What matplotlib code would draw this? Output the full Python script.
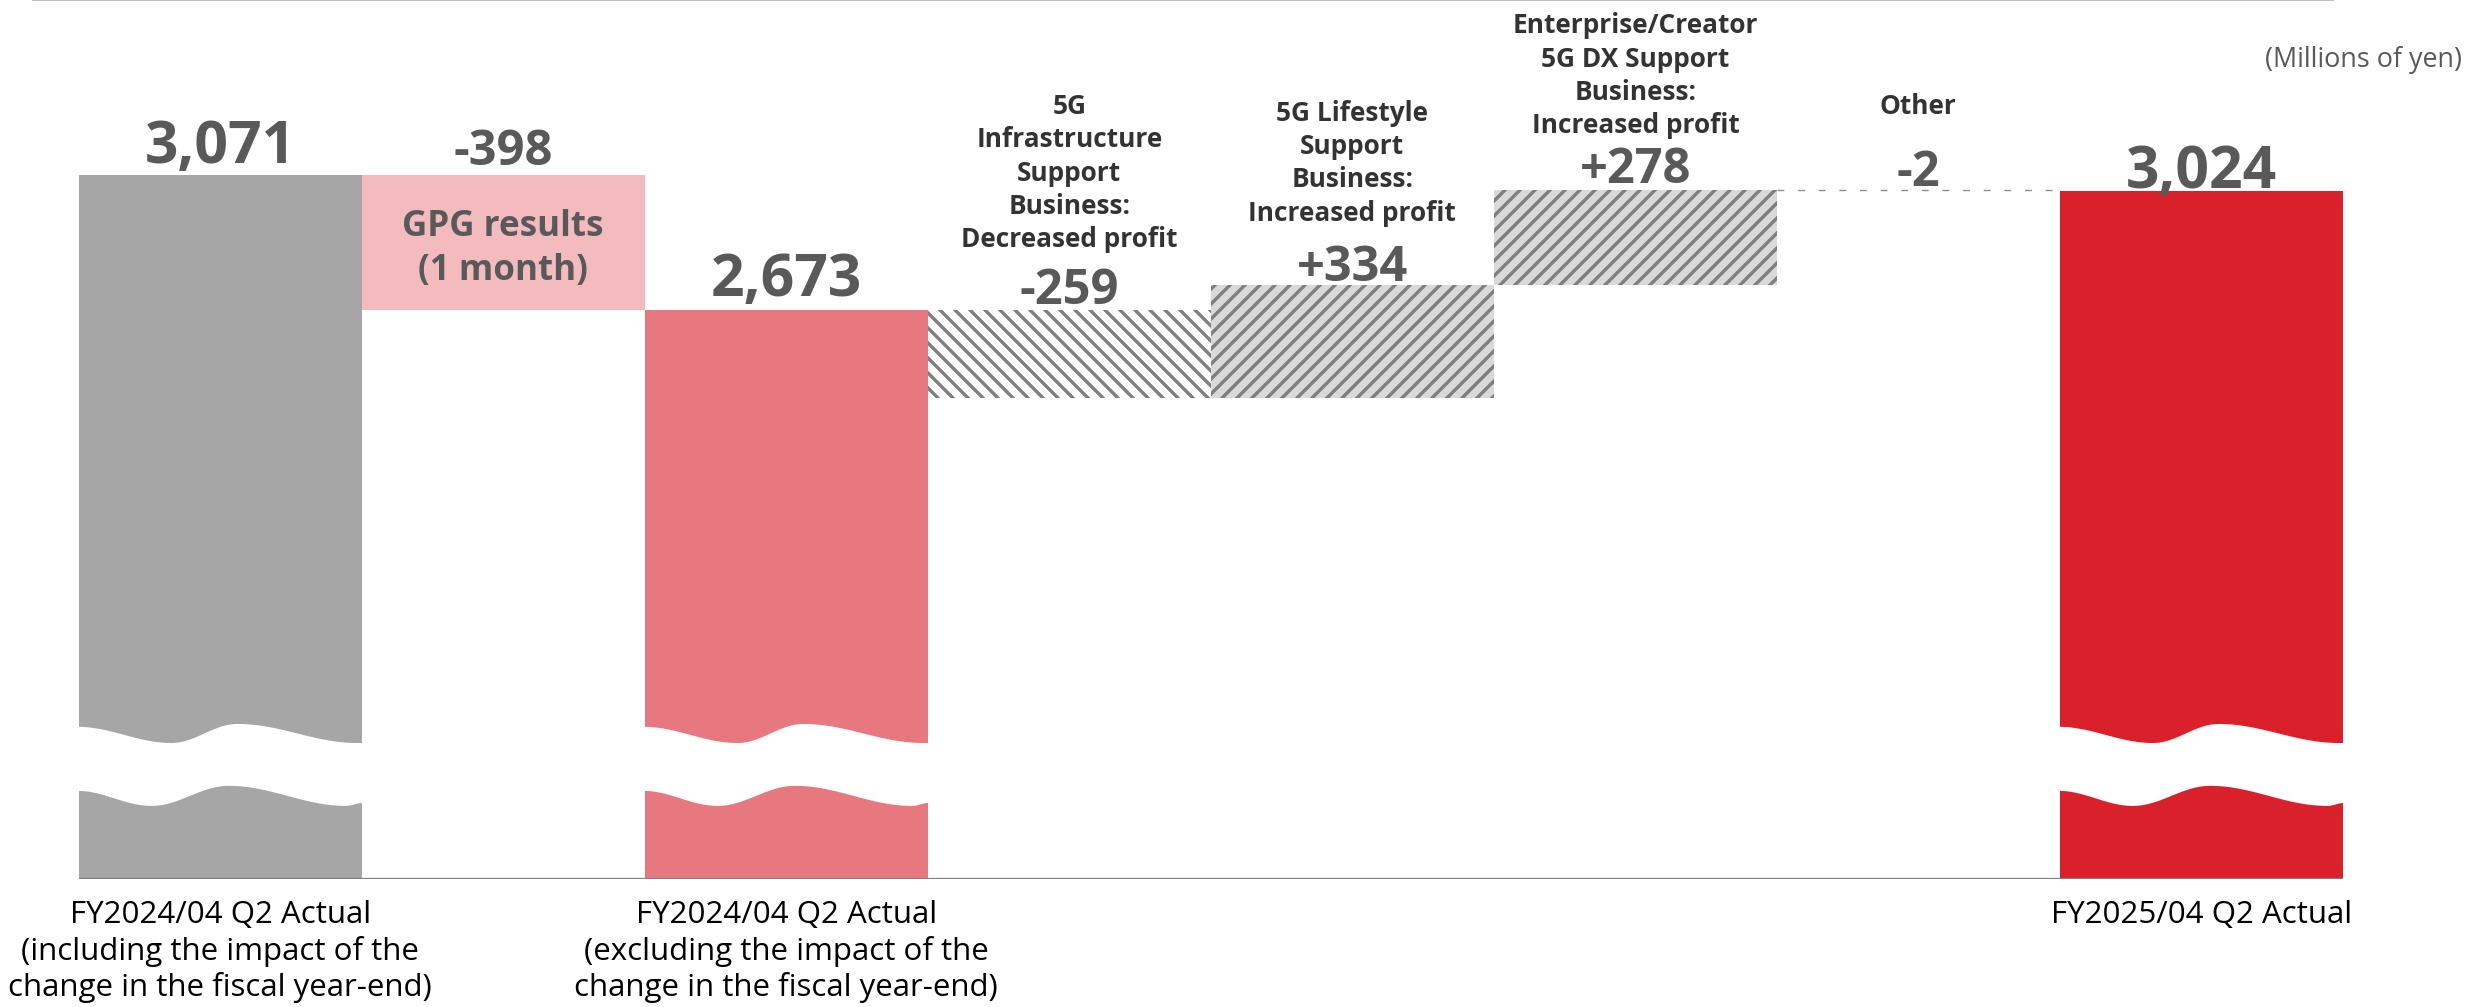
import numpy as np
import matplotlib
matplotlib.use("Agg")
import matplotlib.pyplot as plt
from matplotlib.lines import Line2D
from matplotlib.patches import Polygon

plt.rcParams['font.family'] = ['Open Sans', 'DejaVu Sans']
plt.rcParams['hatch.linewidth'] = 2.7

# ---- data (millions of yen) ----
step_kinds = ["total", "delta", "total", "delta", "delta", "delta", "delta", "total"]
step_values = [3071, -398, 2673, -259, 334, 278, -2, 3024]
step_names = [
    "",
    "",
    "",
    "5G\nInfrastructure\nSupport\nBusiness:\nDecreased profit",
    "5G Lifestyle\nSupport\nBusiness:\nIncreased profit",
    "Enterprise/Creator\n5G DX Support\nBusiness:\nIncreased profit",
    "Other",
    "",
]
inner_label = "GPG results\n(1 month)"
x_labels = [
    "FY2024/04 Q2 Actual\n(including the impact of the\nchange in the fiscal year-end)",
    "",
    "FY2024/04 Q2 Actual\n(excluding the impact of the\nchange in the fiscal year-end)",
    "",
    "",
    "",
    "",
    "FY2025/04 Q2 Actual",
]
unit_label = "(Millions of yen)"

# ---- styling ----
face_colors = ["#A6A6A6", "#F4BBBE", "#E8787F", "white", "#D9D9D9", "#D9D9D9", "none", "#DA202A"]
hatches = [None, None, None, "\\\\", "//", "//", None, None]
value_gap_px = [13, 11, 15, 7, 5, 8, 5, 4]        # value label baseline above bar top
name_gap_px = [0, 0, 0, 64, 65, 58, 77, 0]        # step name baseline above bar top

DPI = 90
W, H = 2466, 1008
PT = DPI / 72.0          # pixels per point
BASE_PX = 880            # baseline row in pixels from top
PX_PER_UNIT = 0.34
Y0 = 1000                # value at the (broken) baseline
Y1 = Y0 + BASE_PX / PX_PER_UNIT

fig = plt.figure(figsize=(W / DPI, H / DPI), dpi=DPI)
left_px, right_px = 78.6, 2343
ax = fig.add_axes([left_px / W, (H - BASE_PX) / H, (right_px - left_px) / W, BASE_PX / H])
ax.set_xlim(-0.5, 7.5)
ax.set_ylim(Y0, Y1)
ax.axis("off")

# ---- waterfall geometry ----
bottoms, heights = [], []
running = None
for kind, v in zip(step_kinds, step_values):
    if kind == "total":
        bottoms.append(Y0)
        heights.append(v - Y0)
        running = v
    else:
        bottoms.append(running)
        heights.append(v)
        running += v

xs = np.arange(len(step_values))
for i in xs:
    ax.bar(i, heights[i], bottom=bottoms[i], width=1.0,
           color=face_colors[i], hatch=hatches[i],
           edgecolor="#7F7F7F" if hatches[i] else "none",
           linewidth=0, zorder=2)

# connector for the "Other" step
other = 6
ax.plot([other - 0.5, other + 0.5], [bottoms[other]] * 2, color="#8C8C8C",
        lw=1.1, linestyle=(0, (5.0, 10.0)), zorder=3, dash_capstyle="butt")

# ---- wavy axis break over the total bars ----
def cos_interp(t, pts):
    tx = [p[0] for p in pts]
    ty = [p[1] for p in pts]
    out = np.zeros_like(t)
    for k in range(len(tx) - 1):
        m = (t >= tx[k]) & (t <= tx[k + 1])
        u = (t[m] - tx[k]) / (tx[k + 1] - tx[k])
        s = (1 - np.cos(np.pi * u)) / 2
        out[m] = ty[k] + (ty[k + 1] - ty[k]) * s
    return out

t = np.linspace(0, 1, 200)
upper_edge = 1400 + 56 * cos_interp(t, [(0, 0.85), (0.33, 0), (0.56, 1), (0.98, 0), (1, 0)])
lower_edge = 1215 + 59 * cos_interp(t, [(0, 0.75), (0.26, 0), (0.53, 1), (0.94, 0), (1, 0.15)])
for i in xs:
    if step_kinds[i] != "total":
        continue
    xx = i - 0.505 + 1.01 * t
    poly = np.vstack([np.column_stack([xx, upper_edge]),
                      np.column_stack([xx[::-1], lower_edge[::-1]])])
    ax.add_patch(Polygon(poly, closed=True, facecolor="white", edgecolor="none", zorder=4))

# baseline
ax.plot([-0.5, 7.5], [Y0, Y0], color="#808080", lw=2.6, zorder=5, solid_capstyle="butt")

# ---- labels ----
for i in xs:
    top = max(bottoms[i], bottoms[i] + heights[i])
    v = step_values[i]
    txt = f"{v:,}" if step_kinds[i] == "total" else f"{v:+,}"
    size = 47 if step_kinds[i] == "total" else 39
    ax.annotate(txt, xy=(i, top), xytext=(0, value_gap_px[i] / PT), textcoords="offset points",
                ha="center", va="baseline", fontsize=size, fontweight="bold",
                color="#595959", zorder=6)
    if step_names[i]:
        ax.annotate(step_names[i], xy=(i, top), xytext=(0, name_gap_px[i] / PT),
                    textcoords="offset points", ha="center", va="baseline",
                    fontsize=21, fontweight="bold", color="#333333",
                    linespacing=1.3, zorder=6)
    if x_labels[i]:
        ax.annotate(x_labels[i], xy=(i, Y0), xytext=(0, -16), textcoords="offset points",
                    ha="center", va="top", fontsize=25, color="black",
                    linespacing=1.23, zorder=6)

gpg = 1
ax.text(gpg, bottoms[gpg] + heights[gpg] / 2 - 16, inner_label, ha="center", va="center",
        fontsize=28, fontweight="bold", color="#595959", linespacing=1.28, zorder=6)

fig.text(2462 / W, 1 - 67 / H, unit_label, ha="right", va="baseline",
         fontsize=21.5, color="#595959")

# top rule
fig.add_artist(Line2D([33 / W, 2333 / W], [1 - 1.0 / H] * 2, color="#BFBFBF", lw=1.6))

fig.savefig("out.png", dpi=DPI, facecolor="white")
